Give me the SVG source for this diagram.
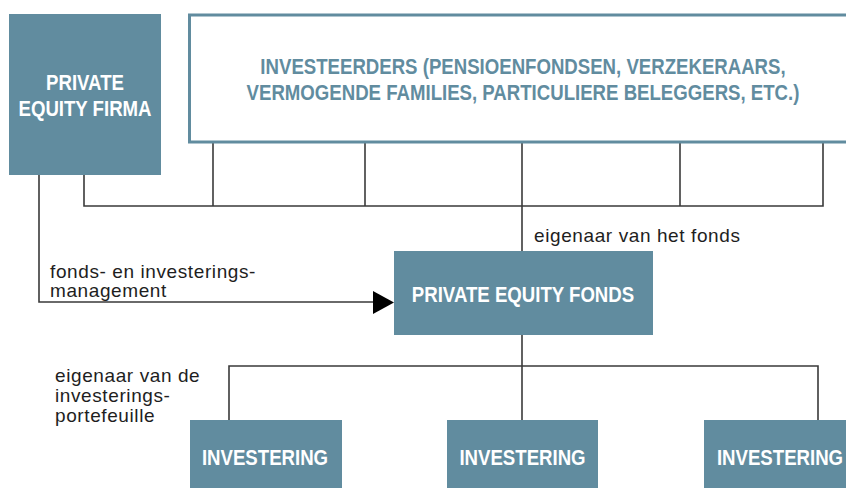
<svg xmlns="http://www.w3.org/2000/svg" width="846" height="488" viewBox="0 0 846 488">
  <defs>
    <style>
      .box { fill: #618c9f; }
      .outline { fill: #ffffff; stroke: #618c9f; stroke-width: 3; }
      .bold { font-family: "Liberation Sans", Arial, sans-serif; font-weight: bold; font-size: 23px; text-anchor: middle; }
      .white { fill: #ffffff; }
      .blue { fill: #618c9f; }
      .label { font-family: "Liberation Sans", Arial, sans-serif; font-size: 19px; letter-spacing: 0.6px; fill: #1e1e1e; }
      .conn { fill: none; stroke: #3a3a3a; stroke-width: 1.6; }
    </style>
  </defs>
  <rect width="846" height="488" fill="#ffffff"/>

  <g id="connectors">
    <path class="conn" d="M84 175 V206 H823 V143"/>
    <path class="conn" d="M213 143 V206"/>
    <path class="conn" d="M365 143 V206"/>
    <path class="conn" d="M522 143 V251"/>
    <path class="conn" d="M680 143 V206"/>
    <path class="conn" d="M39 175 V302 H376"/>
    <polygon points="373,291 394,302.5 373,314" fill="#000000"/>
    <path class="conn" d="M522 335 V420"/>
    <path class="conn" d="M229 420 V366 H818 V420"/>
  </g>

  <g id="pe-firma">
    <rect class="box" x="9" y="14" width="152" height="161"/>
    <text class="bold white" transform="translate(85 90) scale(0.81 1)">PRIVATE</text>
    <text class="bold white" transform="translate(85 116) scale(0.81 1)">EQUITY FIRMA</text>
  </g>

  <g id="investeerders">
    <rect class="outline" x="189.5" y="15" width="680" height="127"/>
    <text class="bold blue" transform="translate(523 74) scale(0.81 1)">INVESTEERDERS (PENSIOENFONDSEN, VERZEKERAARS,</text>
    <text class="bold blue" transform="translate(523 100) scale(0.81 1)">VERMOGENDE FAMILIES, PARTICULIERE BELEGGERS, ETC.)</text>
  </g>

  <g id="label-eigenaar-fonds">
    <text class="label" x="534" y="242">eigenaar van het fonds</text>
  </g>

  <g id="label-management">
    <text class="label" x="50" y="278">fonds- en investerings-</text>
    <text class="label" x="50" y="297">management</text>
  </g>

  <g id="pe-fonds">
    <rect class="box" x="394" y="251" width="259" height="84"/>
    <text class="bold white" transform="translate(523 302) scale(0.81 1)">PRIVATE EQUITY FONDS</text>
  </g>

  <g id="label-portefeuille">
    <text class="label" x="55" y="382">eigenaar van de</text>
    <text class="label" x="55" y="402">investerings-</text>
    <text class="label" x="55" y="422">portefeuille</text>
  </g>

  <g id="investering-1">
    <rect class="box" x="190" y="420" width="152" height="68"/>
    <text class="bold white" transform="translate(265 465) scale(0.81 1)">INVESTERING</text>
  </g>
  <g id="investering-2">
    <rect class="box" x="447" y="420" width="151" height="68"/>
    <text class="bold white" transform="translate(522.5 465) scale(0.81 1)">INVESTERING</text>
  </g>
  <g id="investering-3">
    <rect class="box" x="704" y="420" width="152" height="68"/>
    <text class="bold white" transform="translate(780 465) scale(0.81 1)">INVESTERING</text>
  </g>
</svg>
